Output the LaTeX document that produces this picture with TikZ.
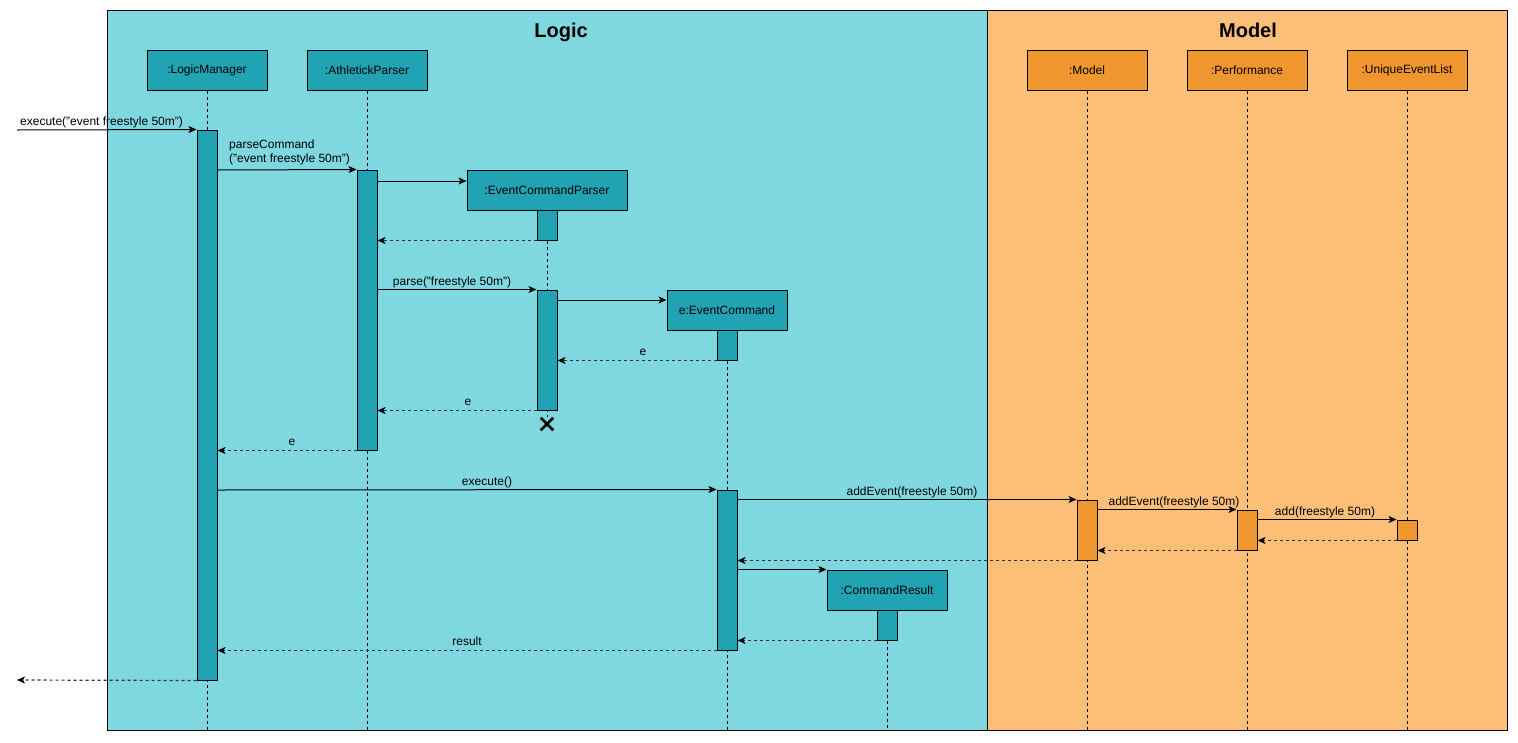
\documentclass[tikz,border=0pt]{standalone}
\usepackage{fontspec}
\setmainfont{Liberation Sans}
\usetikzlibrary{arrows.meta,shapes.misc}
\definecolor{logicbg}{RGB}{127,216,224}
\definecolor{logicfg}{RGB}{33,163,179}
\definecolor{modelbg}{RGB}{253,190,120}
\definecolor{modelfg}{RGB}{240,150,46}
\begin{document}
\begin{tikzpicture}[x=1pt,y=-1pt,
  font=\fontsize{12}{14}\selectfont,
  framebox/.style={draw=black,line width=1pt},
  ttl/.style={font=\fontsize{20}{24}\selectfont\bfseries,anchor=base},
  head/.style={draw=black,line width=1pt,minimum width=120pt,minimum height=40pt,inner sep=0pt},
  acthead/.style={head,fill=logicfg},
  mhead/.style={head,fill=modelfg},
  act/.style={draw=black,line width=1pt,minimum width=20pt,inner sep=0pt},
  lact/.style={act,fill=logicfg},
  mact/.style={act,fill=modelfg},
  life/.style={draw=black,line width=0.8pt,dash pattern=on 3pt off 3pt},
  msg/.style={draw=black,line width=1pt,-{Stealth[length=8pt,width=7pt,inset=2pt]}},
  ret/.style={draw=black!80,line width=1.2pt,dash pattern=on 3pt off 3pt,-{Stealth[length=8pt,width=7pt,inset=2pt,black]}},
  lbl/.style={inner sep=0pt,anchor=base}
]
\useasboundingbox (0,0) rectangle (1518,742);
% frames
\draw[framebox,fill=logicbg] (107,10) rectangle (987,730);
\draw[framebox,fill=modelbg] (987,10) rectangle (1507,730);
\node[ttl] (tlogic) at (561,37) {Logic};
\node[ttl] (tmodel) at (1248,37) {Model};
% heads
\node[acthead] (lm) at (207,70) {:LogicManager};
\node[acthead] (ap) at (367,70) {:AthletickParser};
\node[acthead,minimum width=160pt] (ecp) at (547,190) {:EventCommandParser};
\node[acthead] (ec) at (727,310) {e:EventCommand};
\node[acthead] (cr) at (887,590) {:CommandResult};
\node[mhead] (mo) at (1087,70) {:Model};
\node[mhead] (pf) at (1247,70) {:Performance};
\node[mhead] (ul) at (1407,70) {:UniqueEventList};
% lifeline ends
\coordinate (lmend) at (207,730);
\coordinate (apend) at (367,730);
\coordinate (ecpend) at (547,417);
\coordinate (ecend) at (727,730);
\coordinate (crend) at (887,730);
\coordinate (moend) at (1087,730);
\coordinate (pfend) at (1247,730);
\coordinate (ulend) at (1407,730);
\draw[life] (lm.south) -- (lmend);
\draw[life] (ap.south) -- (apend);
\draw[life] (ecp.south) -- (ecpend);
\draw[life] (ec.south) -- (ecend);
\draw[life] (cr.south) -- (crend);
\draw[life] (mo.south) -- (moend);
\draw[life] (pf.south) -- (pfend);
\draw[life] (ul.south) -- (ulend);
% activations
\node[lact,minimum height=550pt] (lma) at (207,405) {};
\node[lact,minimum height=280pt] (apa) at (367,310) {};
\node[lact,minimum height=30pt] (ecpa1) at (547,225) {};
\node[lact,minimum height=120pt] (ecpa2) at (547,350) {};
\node[lact,minimum height=30pt] (eca1) at (727,345) {};
\node[lact,minimum height=160pt] (eca2) at (727,570) {};
\node[lact,minimum height=30pt] (cra) at (887,625) {};
\node[mact,minimum height=60pt] (moa) at (1087,530) {};
\node[mact,minimum height=40pt] (pfa) at (1247,530) {};
\node[mact,minimum height=20pt] (ula) at (1407,530) {};
% destroy mark
\node[cross out,draw=black,line width=2.5pt,minimum size=10pt,inner sep=0pt] (destroy) at (547,424) {};
% messages
\coordinate (start) at (17,130);
\coordinate (finish) at (17,680);
\draw[msg] (start) -- (lma.north west);
\node[lbl,anchor=base west] (l1) at (20,125) {execute("event freestyle 50m")};
\draw[msg] (lma.east |- 0,170) -- (apa.north west);
\node[inner sep=0pt,anchor=south west,align=left] (l2) at (229,165) {parseCommand\\("event freestyle 50m")};
\draw[msg] (apa.east |- 0,181) -- (ecp.west |- 0,181);
\draw[ret] (ecpa1.south west) -- (apa.east |- ecpa1.south);
\draw[msg] (apa.east |- ecpa2.north) -- (ecpa2.north west);
\node[lbl] (l3) at (452,285) {parse("freestyle 50m")};
\draw[msg] (ecpa2.east |- 0,300) -- (ec.west |- 0,300);
\draw[ret] (eca1.south west) -- (ecpa2.east |- eca1.south);
\node[lbl] (l4) at (643,355) {e};
\draw[ret] (ecpa2.south west) -- (apa.east |- ecpa2.south);
\node[lbl] (l5) at (468,405) {e};
\draw[ret] (apa.south west) -- (lma.east |- apa.south);
\node[lbl] (l6) at (292,445) {e};
\draw[msg] (lma.east |- 0,490) -- (eca2.north west);
\node[lbl] (l7) at (487,485) {execute()};
\draw[msg] (eca2.east |- moa.north) -- (moa.north west);
\node[lbl] (l8) at (912,495) {addEvent(freestyle 50m)};
\draw[msg] (moa.east |- pfa.north) -- (pfa.north west);
\node[lbl] (l9) at (1174,505) {addEvent(freestyle 50m)};
\draw[msg] (pfa.east |- ula.north) -- (ula.north west);
\node[lbl] (l10) at (1325,515) {add(freestyle 50m)};
\draw[ret] (ula.south west) -- (pfa.east |- ula.south);
\draw[ret] (pfa.south west) -- (moa.east |- pfa.south);
\draw[ret] (moa.south west) -- (eca2.east |- moa.south);
\draw[msg] (eca2.east |- cr.north) -- (cr.north west);
\draw[ret] (cra.south west) -- (eca2.east |- cra.south);
\draw[ret] (eca2.south west) -- (lma.east |- eca2.south);
\node[lbl] (l11) at (467,645) {result};
\draw[ret] (lma.south west) -- (finish);
\end{tikzpicture}
\end{document}
